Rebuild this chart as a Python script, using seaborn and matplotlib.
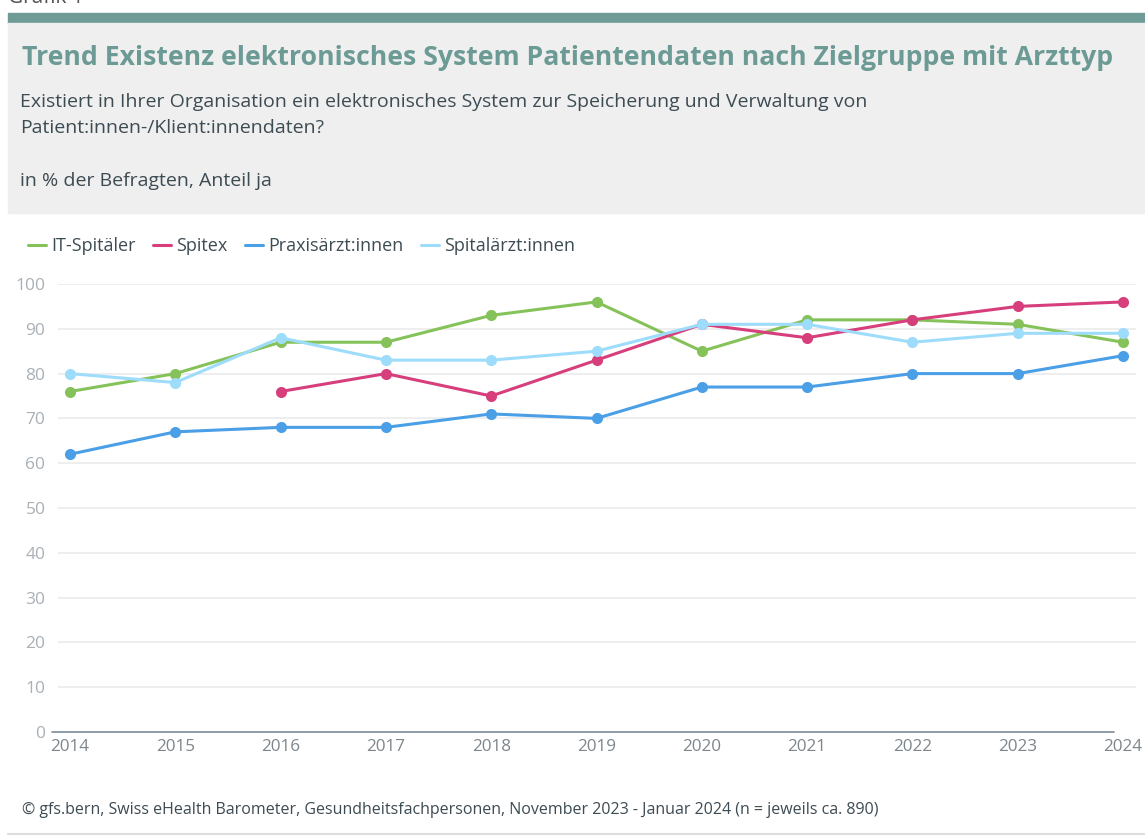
import pandas as pd
import numpy as np
import seaborn as sns
import matplotlib.pyplot as plt
from matplotlib.lines import Line2D
from matplotlib.patches import Rectangle

# data
years = [2014, 2015, 2016, 2017, 2018, 2019, 2020, 2021, 2022, 2023, 2024]
it_spitaeler = [76, 80, 87, 87, 93, 96, 85, 92, 92, 91, 87]
spitex = [np.nan, np.nan, 76, 80, 75, 83, 91, 88, 92, 95, 96]
praxisaerzte = [62, 67, 68, 68, 71, 70, 77, 77, 80, 80, 84]
spitalaerzte = [80, 78, 88, 83, 83, 85, 91, 91, 87, 89, 89]

series_names = ["IT-Spitäler", "Spitex", "Praxisärzt:innen", "Spitalärzt:innen"]
colors = ["#86c25a", "#d63f7c", "#4a9fe6", "#9ddcfa"]
y_ticks = [0, 10, 20, 30, 40, 50, 60, 70, 80, 90, 100]

FONT = ["Open Sans", "DejaVu Sans"]
TEAL = "#6c9a95"
DARK = "#3d4b53"


def build_frame():
    """Long-form frame for seaborn."""
    frames = []
    for name, vals in zip(series_names, [it_spitaeler, spitex, praxisaerzte, spitalaerzte]):
        frames.append(pd.DataFrame({"Jahr": years, "Wert": vals, "Gruppe": name}))
    df = pd.concat(frames, ignore_index=True)
    return df.dropna()


def line_chart(df, output_file):
    sns.set_style("white")
    plt.rcParams["font.family"] = FONT

    W, H = 1145, 835
    fig = plt.figure(figsize=(W / 100, H / 100), dpi=100)

    # header box
    fig.patches.append(Rectangle((8 / W, 1 - 23 / H), 1, 10 / H, transform=fig.transFigure,
                                 color="#6e9b96", zorder=0))
    fig.patches.append(Rectangle((8 / W, 1 - 213 / H), 1, 190 / H, transform=fig.transFigure,
                                 color="#efefef", zorder=0))
    fig.text(8 / W, 1 - 8 / H, "Grafik 1", fontsize=15, color="#555555", va="bottom", ha="left")
    fig.text(22 / W, 1 - 58 / H, "Trend Existenz elektronisches System Patientendaten nach Zielgruppe mit Arzttyp",
             fontsize=19.2, fontweight="bold", color=TEAL, va="center", ha="left")
    fig.text(20 / W, 1 - 102 / H, "Existiert in Ihrer Organisation ein elektronisches System zur Speicherung und Verwaltung von",
             fontsize=14, color=DARK, va="center", ha="left")
    fig.text(20 / W, 1 - 128 / H, "Patient:innen-/Klient:innendaten?",
             fontsize=14, color=DARK, va="center", ha="left")
    fig.text(20 / W, 1 - 181 / H, "in % der Befragten, Anteil ja",
             fontsize=14, color=DARK, va="center", ha="left")

    # plot area
    left, right = 58 / W, 1136 / W
    bottom, top = 1 - 732 / H, 1 - 284 / H
    ax = fig.add_axes([left, bottom, right - left, top - bottom])

    palette = dict(zip(series_names, colors))
    sns.lineplot(data=df, x="Jahr", y="Wert", hue="Gruppe", palette=palette,
                 marker="o", markersize=8, markeredgewidth=0, linewidth=2.2,
                 ax=ax, legend=False, clip_on=False, zorder=3)

    ax.set_xlim(2014 - 12 / 105.3, 2024 + 13 / 105.3)
    ax.set_ylim(0, 100)
    ax.set_yticks(y_ticks)
    ax.set_xticks(years)
    ax.set_xticklabels([str(y) for y in years])
    ax.set_xlabel("")
    ax.set_ylabel("")
    for y in y_ticks[1:]:
        ax.axhline(y, color="#ebebeb", linewidth=1.2, zorder=1)
    ax.plot([2014 - 18 / 105.3, 2024 - 9 / 105.3], [0, 0], color="#8595a0", linewidth=1.3,
            clip_on=False, zorder=2)
    for s in ax.spines.values():
        s.set_visible(False)
    ax.tick_params(axis="y", length=0, pad=9, labelsize=12.5, labelcolor="#a9b0b6")
    ax.tick_params(axis="x", length=0, pad=5, labelsize=12.3, labelcolor="#7d868c")

    # legend
    handles = [Line2D([0], [0], color=c, linewidth=2.2) for c in colors]
    fig.legend(handles, series_names, loc="center left", bbox_to_anchor=(12 / W, 1 - 246 / H),
               ncol=4, frameon=False, handlelength=1.0, handletextpad=0.25, columnspacing=1.0,
               fontsize=13, labelcolor=DARK)

    fig.text(22 / W, 1 - 810 / H,
             "© gfs.bern, Swiss eHealth Barometer, Gesundheitsfachpersonen, November 2023 - Januar 2024 (n = jeweils ca. 890)",
             fontsize=11.5, color=DARK, va="center", ha="left")
    fig.add_artist(Line2D([8 / W, 1], [1 - 834 / H] * 2, color="#dddddd", linewidth=1.5))

    fig.savefig(output_file, dpi=100)
    plt.close(fig)


if __name__ == '__main__':
    data = build_frame()
    line_chart(data, "out.png")
